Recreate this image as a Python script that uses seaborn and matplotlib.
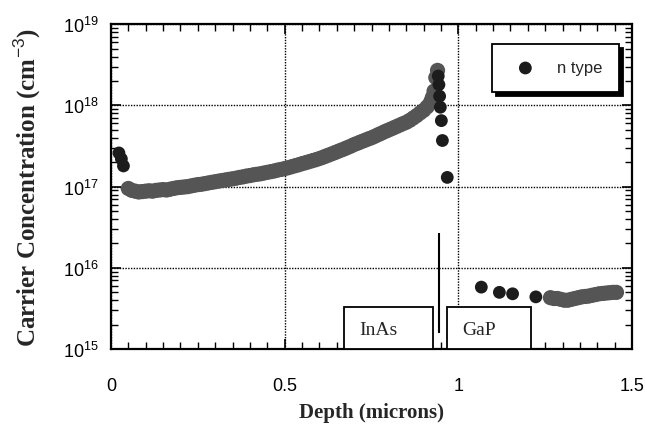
import numpy as np
import pandas as pd
import matplotlib
matplotlib.use("Agg")
import matplotlib.pyplot as plt
from matplotlib.patches import Rectangle
from matplotlib.ticker import MultipleLocator, LogLocator, NullFormatter
import seaborn as sns

# ---- data ----
lead_x = [0.023, 0.030, 0.036]
lead_y = [2.6e17, 2.2e17, 1.8e17]

curve_x = [0.05, 0.06, 0.07, 0.08, 0.09, 0.10, 0.11, 0.12, 0.13, 0.14,
           0.15, 0.16, 0.17, 0.18, 0.19, 0.20, 0.21, 0.22, 0.23, 0.24,
           0.25, 0.26, 0.27, 0.28, 0.29, 0.30, 0.31, 0.32, 0.33, 0.34,
           0.35, 0.36, 0.37, 0.38, 0.39, 0.40, 0.41, 0.42, 0.43, 0.44,
           0.45, 0.46, 0.47, 0.48, 0.49, 0.50, 0.51, 0.52, 0.53, 0.54,
           0.55, 0.56, 0.57, 0.58, 0.59, 0.60, 0.61, 0.62, 0.63, 0.64,
           0.65, 0.66, 0.67, 0.68, 0.69, 0.70, 0.71, 0.72, 0.73, 0.74,
           0.75, 0.76, 0.77, 0.78, 0.79, 0.80, 0.81, 0.82, 0.83, 0.84,
           0.85, 0.86, 0.87, 0.88, 0.89, 0.90, 0.91, 0.92, 0.925, 0.93,
           0.935, 0.94]
curve_y = [9.5e16, 9.0e16, 8.8e16, 8.6e16, 8.7e16, 8.8e16, 8.9e16, 8.8e16, 9.0e16, 9.1e16,
           9.2e16, 9.1e16, 9.3e16, 9.5e16, 9.7e16, 9.8e16, 9.9e16, 1.00e17, 1.02e17, 1.04e17,
           1.06e17, 1.07e17, 1.09e17, 1.11e17, 1.13e17, 1.15e17, 1.17e17, 1.19e17, 1.21e17, 1.23e17,
           1.25e17, 1.27e17, 1.30e17, 1.32e17, 1.35e17, 1.37e17, 1.40e17, 1.42e17, 1.44e17, 1.47e17,
           1.50e17, 1.53e17, 1.56e17, 1.60e17, 1.63e17, 1.67e17, 1.71e17, 1.76e17, 1.81e17, 1.86e17,
           1.92e17, 1.97e17, 2.03e17, 2.09e17, 2.15e17, 2.22e17, 2.30e17, 2.39e17, 2.48e17, 2.58e17,
           2.68e17, 2.79e17, 2.90e17, 3.02e17, 3.15e17, 3.30e17, 3.43e17, 3.57e17, 3.71e17, 3.86e17,
           4.00e17, 4.18e17, 4.38e17, 4.58e17, 4.80e17, 5.00e17, 5.22e17, 5.45e17, 5.70e17, 5.95e17,
           6.20e17, 6.55e17, 7.00e17, 7.50e17, 8.10e17, 8.70e17, 9.60e17, 1.10e18, 1.25e18, 1.50e18,
           2.20e18, 2.70e18]

drop_x = [0.942, 0.944, 0.946, 0.948, 0.951, 0.954, 0.968]
drop_y = [2.3e18, 1.8e18, 1.3e18, 9.5e17, 6.5e17, 3.7e17, 1.3e17]

gap_x = [1.066, 1.118, 1.156, 1.223]
gap_y = [5.8e15, 5.0e15, 4.8e15, 4.4e15]

band_x = [1.265, 1.275, 1.285, 1.295, 1.305, 1.315, 1.325, 1.335, 1.345, 1.355,
          1.365, 1.375, 1.385, 1.395, 1.405, 1.415, 1.425, 1.435, 1.445, 1.455]
band_y = [4.3e15, 4.2e15, 4.2e15, 4.1e15, 4.0e15, 4.0e15, 4.1e15, 4.2e15, 4.3e15, 4.4e15,
          4.45e15, 4.5e15, 4.6e15, 4.7e15, 4.8e15, 4.85e15, 4.9e15, 4.95e15, 5.0e15, 5.0e15]

x_ticks = [0, 0.5, 1, 1.5]
x_tick_labels = ["0", "0.5", "1", "1.5"]

dense = pd.DataFrame({"depth": curve_x + band_x, "conc": curve_y + band_y})
sparse = pd.DataFrame({"depth": lead_x + drop_x + gap_x, "conc": lead_y + drop_y + gap_y})

# ---- style ----
sns.set_theme(style="ticks", rc={
    "xtick.direction": "in", "ytick.direction": "in",
    "xtick.top": True, "ytick.right": True,
    "xtick.bottom": True, "ytick.left": True,
})
plt.rcParams["font.family"] = ["Liberation Sans", "DejaVu Sans"]
plt.rcParams["mathtext.fontset"] = "custom"
plt.rcParams["mathtext.rm"] = "Liberation Sans"
plt.rcParams["mathtext.it"] = "Liberation Sans:italic"
plt.rcParams["mathtext.bf"] = "Liberation Sans:bold"

fig = plt.figure(figsize=(6.45, 4.27), dpi=100)
ax = fig.add_axes([0.172, 0.180, 0.808, 0.761])

sns.scatterplot(data=dense, x="depth", y="conc", ax=ax, s=120, color="#555555",
                edgecolor="none", linewidth=0, zorder=4, legend=False)
sns.scatterplot(data=sparse, x="depth", y="conc", ax=ax, s=85, color="#1c1c1c",
                edgecolor="none", linewidth=0, zorder=4, label="n type")

ax.set_yscale("log")
ax.set_xlim(0, 1.5)
ax.set_ylim(1e15, 1e19)

ax.set_xticks(x_ticks)
ax.set_xticklabels(x_tick_labels)
ax.xaxis.set_minor_locator(MultipleLocator(0.05))
ax.yaxis.set_major_locator(LogLocator(base=10, numticks=10))
ax.yaxis.set_minor_locator(LogLocator(base=10, subs=np.arange(2, 10), numticks=20))
ax.yaxis.set_minor_formatter(NullFormatter())

ax.tick_params(which="both", direction="in", top=True, right=True, bottom=True, left=True,
               color="black", labelsize=13, labelcolor="black")
ax.tick_params(which="major", length=7, width=1.2)
ax.tick_params(which="minor", length=5, width=1.0)
ax.tick_params(axis="x", which="major", pad=20)
ax.tick_params(axis="y", which="major", pad=9)

for sp in ax.spines.values():
    sp.set_visible(True)
    sp.set_color("black")
    sp.set_linewidth(1.6)

ax.grid(True, which="major", color="black", linestyle=(0, (1, 1)), linewidth=1.0)
ax.set_axisbelow(False)

ax.set_xlabel("Depth (microns)", family="Liberation Serif", fontweight="bold",
              fontsize=15, labelpad=6)
ax.set_ylabel("Carrier Concentration (cm$^{-3}$)", family="Liberation Serif",
              fontweight="bold", fontsize=18, labelpad=14)

# layer boxes
box_top = 3.3e15
ax.add_patch(Rectangle((0.67, 1e15), 0.258, box_top - 1e15, facecolor="white",
                       edgecolor="black", linewidth=1.3, zorder=3, clip_on=False))
ax.add_patch(Rectangle((0.968, 1e15), 0.240, box_top - 1e15, facecolor="white",
                       edgecolor="black", linewidth=1.3, zorder=3, clip_on=False))
ax.text(0.715, 1.75e15, "InAs", family="Liberation Serif", fontsize=14,
        ha="left", va="center", zorder=5)
ax.text(1.012, 1.75e15, "GaP", family="Liberation Serif", fontsize=14,
        ha="left", va="center", zorder=5)
ax.vlines(0.945, 1.6e15, 2.7e16, color="black", linewidth=1.5, zorder=5)

leg = ax.legend(loc="upper right", bbox_to_anchor=(0.975, 0.94), frameon=True,
                fancybox=False, shadow={"color": "black", "alpha": 1, "ox": 3, "oy": -3},
                fontsize=12, borderpad=1.0, handletextpad=0.9, markerscale=1.0,
                borderaxespad=0.0)
leg.get_frame().set_edgecolor("black")
leg.get_frame().set_linewidth(1.3)
leg.get_frame().set_alpha(1)

fig.savefig("out.png", dpi=100)
